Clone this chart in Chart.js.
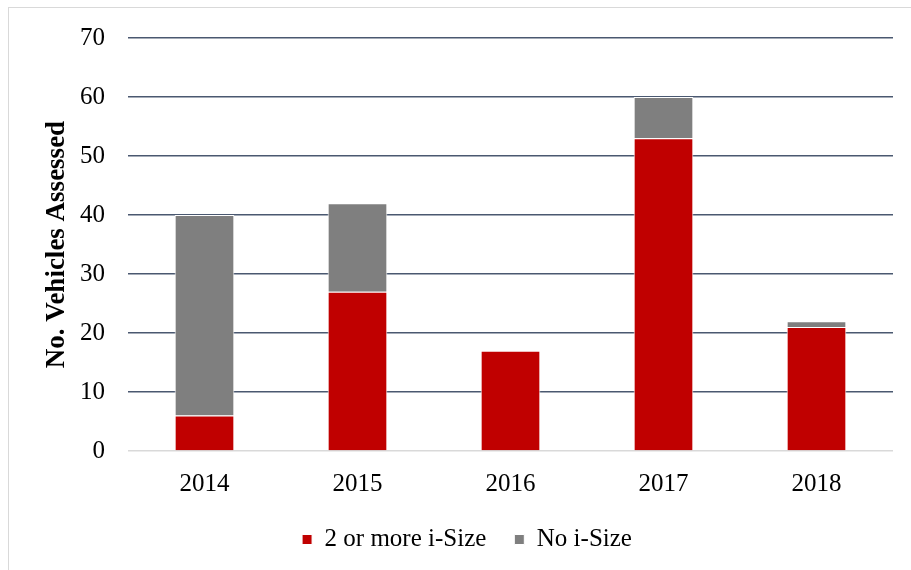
<!DOCTYPE html>
<html>
<head>
<meta charset="utf-8">
<script src="https://cdn.jsdelivr.net/npm/chart.js@4/dist/chart.umd.min.js"></script>
<style>
  html, body { margin: 0; padding: 0; background: #fff; }
  #wrap { position: relative; width: 911px; height: 570px; }
  #marco { position: absolute; left: 8px; top: 7px; width: 902px; height: 563px; border-left: 1px solid #d9d9d9; border-top: 1px solid #d9d9d9; pointer-events: none; }
</style>
</head>
<body>
<div id="wrap">
  <canvas id="grafico" width="911" height="570"></canvas>
  <div id="marco"></div>
</div>
<script>
/* Datos */
var anios = ['2014', '2015', '2016', '2017', '2018'];
var conISize = [6, 27, 17, 53, 21];   /* 2 or more i-Size */
var sinISize = [34, 15, 0, 7, 1];     /* No i-Size */
var ticksY = [0, 10, 20, 30, 40, 50, 60, 70];

var fuente = "'Liberation Serif', 'Times New Roman', serif";
Chart.defaults.color = '#000';
Chart.defaults.font.family = fuente;

function crearGrafico() {
    var canvas = document.getElementById('grafico');
    new Chart(canvas, {
        type: 'bar',
        data: {
            labels: anios,
            datasets: [{
                label: '2 or more i-Size',
                data: conISize,
                backgroundColor: '#c00000',
                borderColor: '#ffffff',
                borderWidth: 1,
                categoryPercentage: 1,
                barPercentage: 0.39
            }, {
                label: 'No i-Size',
                data: sinISize,
                backgroundColor: '#7f7f7f',
                borderColor: '#ffffff',
                borderWidth: 1,
                categoryPercentage: 1,
                barPercentage: 0.39
            }]
        },
        options: {
            responsive: false,
            animation: false,
            layout: { padding: { left: 41, right: 18, top: 36, bottom: 8 } },
            plugins: {
                legend: {
                    position: 'bottom',
                    labels: {
                        font: { size: 25 },
                        boxWidth: 10,
                        boxHeight: 10,
                        padding: 28
                    }
                },
                tooltip: { enabled: false }
            },
            scales: {
                x: {
                    stacked: true,
                    grid: { display: false },
                    border: { display: false },
                    ticks: { font: { size: 25 }, padding: 10 },
                    afterFit: function (eje) { eje.height = 48; }
                },
                y: {
                    stacked: true,
                    min: 0,
                    max: 70,
                    afterBuildTicks: function (eje) {
                        eje.ticks = ticksY.map(function (v) { return { value: v }; });
                    },
                    grid: {
                        drawTicks: false,
                        lineWidth: 1.5,
                        color: function (ctx) { return ctx.tick && ctx.tick.value === 0 ? '#d9d9d9' : '#4a5870'; }
                    },
                    border: { display: false },
                    ticks: { font: { size: 25 }, padding: 23 },
                    title: {
                        display: true,
                        text: 'No. Vehicles Assessed',
                        font: { size: 27, weight: 'bold' },
                        padding: 0
                    },
                    afterFit: function (eje) { eje.width = 87; }
                }
            }
        }
    });
}
crearGrafico();
</script>
</body>
</html>
